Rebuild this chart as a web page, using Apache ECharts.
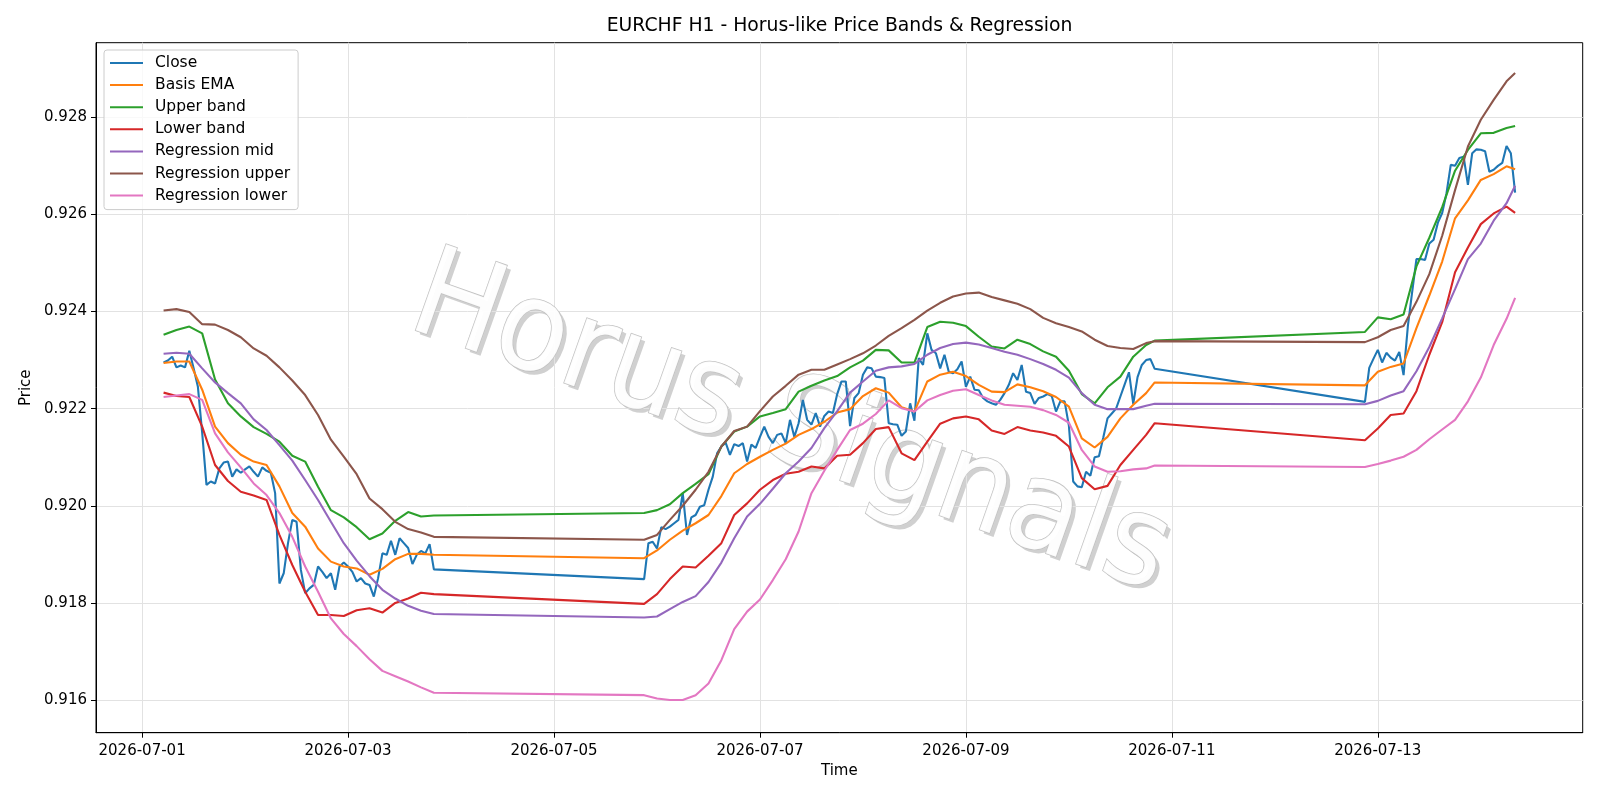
<!DOCTYPE html>
<html>
<head>
    <meta charset="utf-8">
    <script src="https://cdn.jsdelivr.net/npm/echarts@6/dist/echarts.min.js"></script>
    <style>
        html, body { margin: 0; padding: 0; background: #fff; }
        #main { width: 1600px; height: 800px; }
    </style>
</head>
<body>
<div id="main"></div>
<script type="text/javascript">
    // hours are counted from 2026-07-01 00:00 UTC
    var sessions = [[5, 68], [117, 236], [285, 320]];

    // hourly close, one value per hour of each session
    var closeVals = [
        // 5 .. 68
        .92295,.92299,.92307,.92285,.92289,.92285,.92319,.92283,
        .92245,.92150,.92043,.92050,.92046,.92077,.92089,.92091,
        .92060,.92075,.92068,.92075,.92081,.92070,.92060,.92079,
        .92072,.92068,.92026,.91840,.91861,.91923,.91971,.91967,
        .91868,.91820,.91830,.91837,.91875,.91864,.91851,.91861,
        .91827,.91875,.91883,.91875,.91864,.91844,.91851,.91840,
        .91837,.91813,.91851,.91902,.91899,.91928,.91899,.91933,
        .91923,.91913,.91880,.91899,.91907,.91902,.91921,.91869,
        // 117 .. 236
        .91849,.91923,.91926,.91912,.91956,.91952,.91957,.91964,
        .91971,.92026,.91940,.91976,.91981,.91998,.92001,.92033,
        .92060,.92108,.92122,.92130,.92105,.92127,.92123,.92129,
        .92091,.92126,.92119,.92142,.92163,.92142,.92129,.92146,
        .92149,.92129,.92177,.92142,.92170,.92218,.92177,.92167,
        .92191,.92163,.92185,.92194,.92191,.92230,.92256,.92256,
        .92164,.92222,.92232,.92270,.92285,.92283,.92266,.92265,
        .92263,.92170,.92168,.92167,.92144,.92153,.92211,.92175,
        .92304,.92290,.92355,.92321,.92314,.92283,.92311,.92276,
        .92273,.92281,.92297,.92245,.92266,.92239,.92238,.92222,
        .92215,.92211,.92208,.92218,.92232,.92249,.92273,.92259,
        .92290,.92235,.92232,.92210,.92222,.92225,.92230,.92226,
        .92194,.92215,.92215,.92165,.92050,.92040,.92038,.92070,
        .92062,.92100,.92102,.92140,.92180,.92190,.92200,.92225,
        .92250,.92275,.92210,.92265,.92290,.92300,.92302,.92282,
        // 285 .. 320
        .92214,.92284,.92303,.92321,.92295,.92315,.92305,.92299,
        .92317,.92269,.92370,.92440,.92508,.92508,.92506,.92540,
        .92548,.92583,.92603,.92643,.92702,.92700,.92716,.92719,
        .92661,.92726,.92734,.92733,.92730,.92688,.92692,.92700,
        .92706,.92741,.92726,.92645
    ];

    // smooth lines, read every 3 hours of each session (plus the session end)
    var basisEma = [
        .92294,.92297,.92297,.92239,.92163,.92129,.92105,.92091,.92084,.92040,.91985,
        .91957,.91912,.91885,.91875,.91871,.91858,.91870,.91890,.91901,.91901,.91899,
        .91892,.91908,.91930,.91949,.91964,.91981,.92020,.92067,.92086,.92101,.92115,
        .92128,.92146,.92158,.92173,.92192,.92199,.92226,.92242,.92233,.92203,.92194,
        .92256,.92270,.92276,.92267,.92249,.92235,.92234,.92250,.92244,.92236,.92224,
        .92204,.92139,.92120,.92142,.92180,.92208,.92232,.92254,
        .92248,.92276,.92286,.92293,.92366,.92433,.92503,.92592,.92629,.92671,.92683,
        .92699,.92693
    ];
    var upperBand = [
        .92352,.92362,.92369,.92355,.92260,.92211,.92184,.92162,.92148,.92132,.92103,
        .92091,.92039,.91991,.91976,.91956,.91931,.91943,.91969,.91987,.91978,.91980,
        .91985,.91991,.92003,.92026,.92045,.92065,.92122,.92153,.92163,.92184,.92191,
        .92199,.92235,.92247,.92258,.92267,.92285,.92299,.92321,.92320,.92295,.92295,
        .92368,.92379,.92377,.92370,.92348,.92328,.92324,.92342,.92333,.92318,.92307,
        .92278,.92230,.92211,.92244,.92266,.92307,.92331,.92340,
        .92358,.92388,.92384,.92394,.92493,.92552,.92615,.92690,.92733,.92767,.92768,
        .92778,.92782
    ];
    var lowerBand = [
        .92233,.92226,.92224,.92163,.92084,.92051,.92029,.92021,.92012,.91940,.91878,
        .91823,.91775,.91775,.91773,.91785,.91789,.91780,.91800,.91809,.91821,.91818,
        .91798,.91818,.91849,.91875,.91873,.91897,.91923,.91981,.92005,.92033,.92053,
        .92066,.92070,.92081,.92077,.92103,.92105,.92129,.92158,.92162,.92108,.92094,
        .92132,.92169,.92180,.92184,.92178,.92155,.92148,.92162,.92155,.92151,.92144,
        .92122,.92057,.92034,.92041,.92084,.92115,.92146,.92170,
        .92135,.92159,.92187,.92190,.92236,.92311,.92378,.92481,.92532,.92580,.92602,
        .92616,.92603
    ];
    var regMid = [
        .92313,.92315,.92313,.92283,.92254,.92232,.92211,.92178,.92156,.92125,.92093,
        .92053,.92012,.91967,.91923,.91887,.91855,.91827,.91809,.91794,.91784,.91777,
        .91770,.91772,.91787,.91802,.91814,.91843,.91883,.91933,.91978,.92004,.92035,
        .92067,.92091,.92119,.92160,.92195,.92233,.92256,.92278,.92285,.92287,.92292,
        .92311,.92325,.92333,.92336,.92332,.92325,.92317,.92311,.92302,.92292,.92280,
        .92264,.92232,.92208,.92199,.92199,.92199,.92206,.92210,
        .92209,.92216,.92227,.92236,.92277,.92327,.92386,.92446,.92508,.92540,.92587,
        .92623,.92659
    ];
    var regUpper = [
        .92402,.92405,.92399,.92374,.92373,.92362,.92347,.92324,.92309,.92285,.92258,
        .92228,.92187,.92136,.92101,.92065,.92015,.91993,.91967,.91952,.91945,.91936,
        .91930,.91940,.91971,.92000,.92033,.92070,.92122,.92154,.92163,.92195,.92225,
        .92247,.92270,.92280,.92280,.92291,.92302,.92314,.92330,.92350,.92366,.92383,
        .92402,.92418,.92431,.92437,.92439,.92430,.92423,.92416,.92405,.92387,.92376,
        .92368,.92359,.92342,.92329,.92325,.92323,.92335,.92339,
        .92337,.92347,.92362,.92370,.92420,.92477,.92556,.92650,.92740,.92795,.92836,
        .92874,.92891
    ];
    var regLower = [
        .92224,.92227,.92230,.92218,.92149,.92110,.92079,.92046,.92022,.91985,.91936,
        .91875,.91823,.91768,.91736,.91711,.91684,.91660,.91649,.91638,.91626,.91615,
        .91610,.91603,.91600,.91600,.91610,.91634,.91682,.91746,.91782,.91807,.91847,
        .91890,.91947,.92026,.92072,.92115,.92156,.92169,.92189,.92217,.92201,.92194,
        .92217,.92228,.92237,.92240,.92228,.92217,.92208,.92206,.92204,.92197,.92187,
        .92171,.92115,.92081,.92070,.92071,.92075,.92077,.92083,
        .92080,.92086,.92093,.92101,.92115,.92137,.92157,.92177,.92215,.92264,.92331,
        .92385,.92428
    ];

    var yTicks = [0.916, 0.918, 0.920, 0.922, 0.924, 0.926, 0.928];
    var xTickHours = [0, 48, 96, 144, 192, 240, 288];

    var T0 = Date.UTC(2026, 6, 1);
    function toTime(h) { return T0 + h * 3600 * 1000; }

    var closeHours = [];
    var bandHours = [];
    sessions.forEach(function (s) {
        for (var h = s[0]; h <= s[1]; h++) closeHours.push(h);
        for (var k = s[0]; k <= s[1]; k += 3) bandHours.push(k);
        if ((s[1] - s[0]) % 3) bandHours.push(s[1]);
    });
    function pairs(hours, vals) {
        return hours.map(function (h, i) { return [toTime(h), vals[i]]; });
    }
    function pad(n) { return n < 10 ? '0' + n : '' + n; }
    function dateLabel(v) {
        var d = new Date(v);
        return d.getUTCFullYear() + '-' + pad(d.getUTCMonth() + 1) + '-' + pad(d.getUTCDate());
    }

    var colors = ['#1f77b4', '#ff7f0e', '#2ca02c', '#d62728', '#9467bd', '#8c564b', '#e377c2'];
    var names = ['Close', 'Basis EMA', 'Upper band', 'Lower band', 'Regression mid', 'Regression upper', 'Regression lower'];
    var seriesData = [
        pairs(closeHours, closeVals),
        pairs(bandHours, basisEma),
        pairs(bandHours, upperBand),
        pairs(bandHours, lowerBand),
        pairs(bandHours, regMid),
        pairs(bandHours, regUpper),
        pairs(bandHours, regLower)
    ];

    var font = 'DejaVu Sans';
    // watermark: a soft grey copy behind, white outlined text on top
    function watermark(dx, dy, z, style) {
        return {
            type: 'text', z: z, x: 790 + dx, y: 428 + dy,
            rotation: -0.34, scaleY: 1.08, silent: true,
            style: Object.assign({
                text: 'Horus Signals', fontFamily: font, fontSize: 116,
                align: 'center', verticalAlign: 'middle'
            }, style)
        };
    }

    var chart = echarts.init(document.getElementById('main'));
    var option = {
        animation: false,
        color: colors,
        textStyle: { fontFamily: font },
        title: {
            text: 'EURCHF H1 - Horus-like Price Bands & Regression',
            left: 839.5,
            top: 17,
            textAlign: 'center',
            padding: 0,
            textStyle: { fontFamily: font, fontSize: 18.8, fontWeight: 'normal', color: '#000' }
        },
        legend: {
            orient: 'vertical',
            left: 104,
            top: 50,
            padding: [5, 8, 6, 6],
            itemGap: 6.1,
            itemWidth: 33,
            itemHeight: 2,
            icon: 'rect',
            backgroundColor: 'rgba(255,255,255,0.8)',
            borderColor: '#cccccc',
            borderWidth: 1,
            borderRadius: 3,
            textStyle: { fontFamily: font, fontSize: 15.5, color: '#000', lineHeight: 16, padding: [0, 0, 0, 7] },
            data: names
        },
        grid: {
            left: 96,
            right: 17.3,
            top: 42.7,
            bottom: 67.3,
            show: true,
            borderColor: '#000',
            borderWidth: 1,
            containLabel: false
        },
        xAxis: {
            type: 'value',
            min: toTime(-10.75),
            max: toTime(335.75),
            name: 'Time',
            nameLocation: 'middle',
            nameGap: 31,
            nameTextStyle: { fontFamily: font, fontSize: 15, color: '#000' },
            axisLine: { show: true, onZero: false, lineStyle: { color: '#000' } },
            axisTick: {
                show: true, length: 5, lineStyle: { color: '#000' },
                customValues: xTickHours.map(toTime)
            },
            axisLabel: {
                margin: 11,
                fontFamily: font, fontSize: 15, color: '#000',
                customValues: xTickHours.map(toTime),
                formatter: dateLabel
            },
            splitLine: { show: true, lineStyle: { color: '#e2e2e2', width: 1 } }
        },
        yAxis: {
            type: 'value',
            min: 0.915327,
            max: 0.929536,
            name: 'Price',
            nameLocation: 'middle',
            nameRotate: 90,
            nameGap: 59,
            nameTextStyle: { fontFamily: font, fontSize: 15, color: '#000' },
            axisLine: { show: true, onZero: false, lineStyle: { color: '#000' } },
            axisTick: {
                show: true, length: 5, lineStyle: { color: '#000' },
                customValues: yTicks
            },
            axisLabel: {
                margin: 9,
                fontFamily: font, fontSize: 15, color: '#000',
                customValues: yTicks,
                formatter: function (v) { return v.toFixed(3); }
            },
            splitLine: { show: true, lineStyle: { color: '#e2e2e2', width: 1 } }
        },
        graphic: [
            watermark(4, 4, 0, { fill: 'rgba(120,120,120,0.35)', shadowColor: 'rgba(120,120,120,0.4)', shadowBlur: 3 }),
            watermark(0, 0, 1, { fill: 'rgba(255,255,255,0.95)', stroke: '#c2c2c2', lineWidth: 1.5 })
        ],
        series: names.map(function (n, i) {
            return {
                name: n,
                type: 'line',
                data: seriesData[i],
                showSymbol: false,
                symbol: 'none',
                z: 3,
                lineStyle: { width: 2.1, color: colors[i] },
                emphasis: { disabled: true }
            };
        })
    };
    chart.setOption(option);
</script>
</body>
</html>
